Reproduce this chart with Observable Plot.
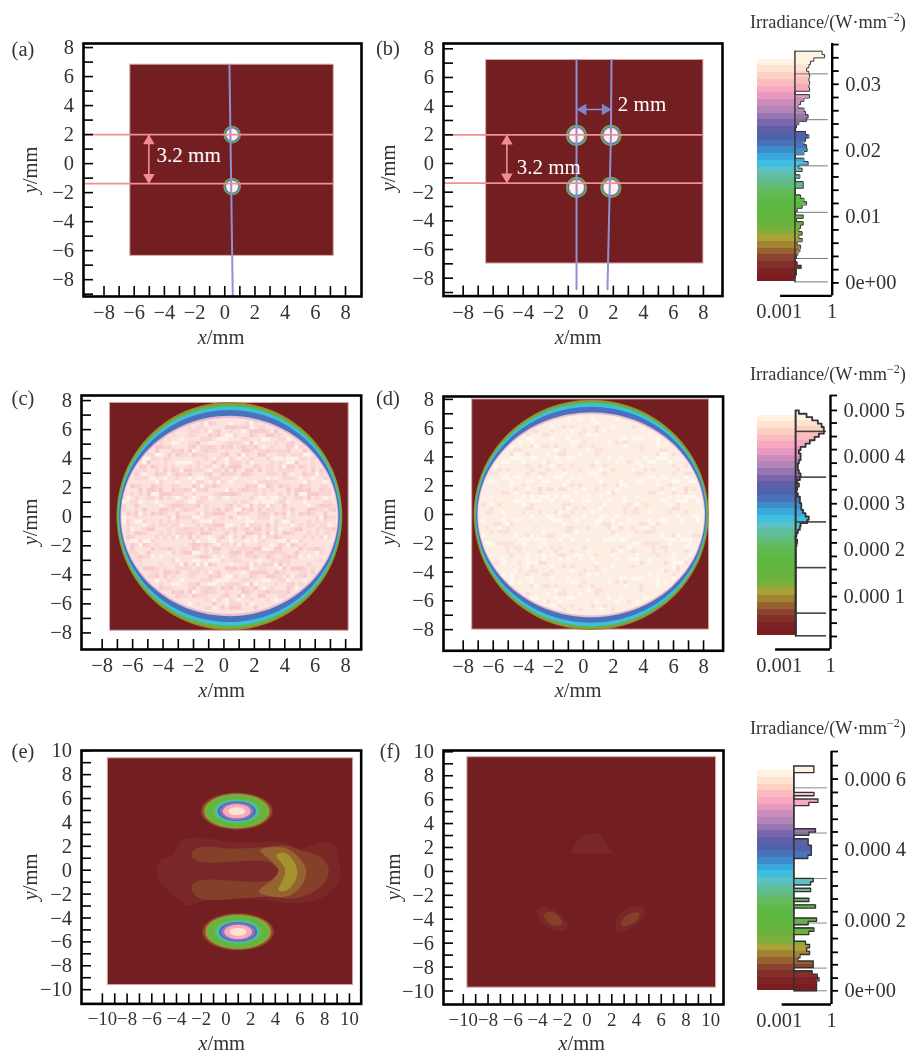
<!DOCTYPE html>
<html><head><meta charset="utf-8">
<script src="https://cdn.jsdelivr.net/npm/d3@7"></script>
<script src="https://cdn.jsdelivr.net/npm/@observablehq/plot@0.6"></script>
<style>
html,body{margin:0;padding:0;background:#fff}
#page{position:relative;width:909px;height:1053px;overflow:hidden;font-family:"Liberation Serif",serif;color:#333;filter:blur(.4px)}
#page svg{position:absolute;overflow:visible;background:transparent}
.lab{position:absolute;white-space:nowrap;font-size:20.5px;line-height:1;transform:translate(-50%,-50%)}
.rot{transform:translate(-50%,-50%) rotate(-90deg)}
.irr{position:absolute;white-space:nowrap;font-size:18.3px;line-height:1}
.irr sup{font-size:12px;line-height:0}
</style></head><body><div id="page"></div>
<script>
// ---------- colour levels, bottom to top ----------
const bandColors=["#7a1c20","#7f2226","#84302a","#8a4330","#96622f","#a38331","#a8a238","#7fae3a","#6cb23d","#63b53f","#5fb640","#5db842","#5fb94c","#64ba5c","#62bb82","#5fbda0","#5dc0c2","#3cbfe0","#3aa8dd","#3f8ccb","#4a72b8","#4f63ad","#5f5fa8","#7a66ac","#9675b0","#b385b8","#cc8dbd","#e89ac0","#f8a8bf","#fbbcc0","#fdd0c4","#fee4d0","#fff2e2"];
const DARK="#731e21",PINK="#f28e92",BLUE="#8e92cf",EDGE="#d8aaaa";

// ---------- histograms, log10 of the count fraction, top bin first ----------
const histA=[-.57,-.43,-1.04,-1.23,-1.32,-1.45,-1.32,-1.28,-1.32,-1.28,-1.32,-1.28,-2.08,-1.28,-1.6,-1.79,-1.94,-1.6,-1.51,-1.36,-1.45,-1.89,-2.02,-2.08,-1.51,-1.32,-1.51,-1.6,-1.45,-1.42,-1.6,-2.08,-1.6,-1.36,-1.89,-1.7,-2.08,-1.83,-2.08,-1.64,-1.64,-2.08,-2.08,-1.79,-1.6,-1.45,-1.7,-1.98,-2.08,-1.64,-2.02,-1.64,-1.79,-1.89,-1.7,-1.89,-1.7,-1.98,-1.79,-1.83,-1.94,-2.02,-2.08,-1.98,-1.75,-2.02,-2.02,-2.08,-2.11];
const histC=[-1.85,-1.4,-1.07,-.74,-.52,-.39,-.39,-.68,-.93,-1.21,-1.46,-1.75,-1.85,-1.75,-1.75,-1.85,-1.91,-1.91,-1.85,-1.75,-1.79,-1.95,-1.85,-1.95,-1.99,-1.91,-1.79,-1.79,-1.71,-1.71,-1.6,-1.46,-1.27,-1.36,-1.75,-1.79,-1.91,-1.99,-2.04,-1.95,-1.99,-2.03,-2.03,-2.03,-2.03,-2.03,-2.03,-2.03,-2.03,-2.03,-2.03,-2.03,-2.03,-2.03,-2.03,-2.03,-2.03,-2.03,-2.03,-2.03,-2.03,-2.03,-2.03,-2.03,-2.03,-2.03,-2.03,-2.03];
const histE=[-1.01,-1.01,-2.16,-2.16,-2.16,-2.16,-2.16,-2.16,-1.01,-2.16,-.78,-1.3,-2.16,-2.16,-2.16,-2.16,-2.16,-2.16,-2.16,-.92,-1.3,-2.16,-1.34,-1.34,-1.16,-1.16,-1.16,-1.36,-2.16,-2.16,-2.16,-2.16,-2.16,-2.16,-1.05,-1.2,-2.16,-1.2,-2.16,-2.16,-1.3,-2.16,-.92,-2.16,-2.16,-2.16,-.86,-1.34,-2.16,-1.01,-1.3,-2.16,-2.16,-1.49,-1.26,-1.43,-1.26,-1.81,-1.93,-1.05,-1.05,-2.16,-1.11,-.82,-.72,-.86,-.86,-.86];

// ---------- colorbar axes ----------
const ticksA=[0,.002,.004,.006,.008,.01,.012,.014,.016,.018,.02,.022,.024,.026,.028,.03,.032,.034,.036];
const ticksC=[.000531,.000499,.000472,.000443,.000415,.000386,.000358,.000329,.000299,.000272,.000243,.000215,.000186,.000158,.000129,.0000999,.0000717,.000043,.0000144];
const ticksE=[.000678,.000638,.0006,.000562,.000524,.000486,.00045,.000412,.000373,.000337,.000297,.00026,.000224,.000186,.000148,.000109,.0000738,.000036,0];
const labelsA=[[0,"0e+00"],[.01,"0.01"],[.02,"0.02"],[.03,"0.03"]];
const labelsC=[[.0001,"0.000 1"],[.0002,"0.000 2"],[.0003,"0.000 3"],[.0004,"0.000 4"],[.0005,"0.000 5"]];
const labelsE=[[0,"0e+00"],[.0002,"0.000 2"],[.0004,"0.000 4"],[.0006,"0.000 6"]];
const levelsA=[.00015,.00369,.01066,.01768,.02465,.03157];
const levelsC=[.0000159,.0000644,.000162,.00026,.000356,.000454];
const levelsE=[0,.0000643,.000192,.000318,.000447,.000575];

// ---------- detector squares [x1,x2,y1,y2] ----------
const squareA=[-6.26,7.22,-6.36,6.82], squareB=[-6.47,8,-6.98,7.22], squareC=[-7.49,8.2,-7.85,7.84];
const squareD=[-7.4,8.37,-8,8], squareE=[-9.56,10.3,-9.62,9.37], squareF=[-9.67,10.43,-9.72,9.55];

// ---------- beam lines and spots ----------
const blueLineA=[[.31,6.82],[.53,-9.16]];
const blueLineB1=[[-.45,7.22],[-.45,-8.77]], blueLineB2=[[1.88,7.22],[1.84,2],[1.61,-8.77]];
const spotsA=[[.49,2],[.49,-1.58]];
const spotsB=[[-.45,1.96],[1.84,1.96],[-.45,-1.67],[1.84,-1.67]];
const spotRingColors=["#8f9a3c","#5fb640","#3fa0d0","#5068b0","#f4a9c4","#fdf3ec"];
const spotRadiiA=[8.8,8.3,7.6,7.1,6.3,5.6], spotRadiiB=[10.6,10,9.3,8.7,7.9,7];

// ---------- ring outlines: a unit outline scaled by the half-widths ----------
const unitRing=[[1,0],[.924,.383],[.707,.707],[.383,.924],[0,1],[-.383,.924],[-.707,.707],[-.924,.383],[-1,0],[-.924,-.383],[-.707,-.707],[-.383,-.924],[0,-1],[.383,-.924],[.707,-.707],[.924,-.383]];
const beamC={cx:.36,cy:.05,rx:[7.42,7.38,7.3,7.25,7.16,7.1],ry:[7.86,7.74,7.55,7.3,6.9,6.75]};
const beamD={cx:.52,cy:-.02,rx:[7.82,7.76,7.7,7.66,7.58,7.52],ry:[8,7.9,7.75,7.5,7.12,7]};
const beamColors=["#a38331","#63b53f","#3cbfe0","#4a72b8","#eabbd5","#fce3dd"];
const lobeE={rx:[2.9,2.74,2.62,2.52,1.9,1.68,1.56,1.35,1.13,.68],ry:[1.55,1.48,1.42,1.37,1.03,.9,.83,.72,.6,.33]};
const lobeColors=["#8a4330","#96622f","#a8a238","#63b53f","#64ba5c","#3cbfe0","#4a72b8","#9675b0","#f8a8bf","#fee4d0"];
const lobeCentersE=[[.88,4.94],[.99,-5.16]];

// ---------- stray-light contours in (e) and (f) ----------
const strayE1=[[-5.64,0],[-5.32,.84],[-4.37,1.26],[-3.56,2.51],[-2.08,2.71],[.62,2.32],[4.67,2.32],[6.02,1.81],[7.64,2.32],[8.72,2.23],[9.12,.98],[9.26,0],[8.99,-1.26],[7.64,-2.37],[5.48,-2.79],[3.32,-2.51],[.62,-2.37],[-1.54,-2.51],[-3.16,-2.93],[-4.51,-1.81],[-5.32,-.98]];
const strayE2=[[-2.75,1.53],[-2.08,1.95],[.62,1.81],[3.32,1.95],[4.67,2.09],[6.02,1.67],[7.64,1.12],[8.31,.14],[8.04,-.98],[7.1,-1.81],[5.48,-2.37],[3.32,-2.23],[-2.08,-2.37],[-2.75,-1.67],[-2.75,-1.26],[-2.08,-.84],[3.59,-.84],[4.26,-.14],[3.59,.64],[-2.08,.7],[-2.75,1.12]];
const strayE3=[[2.78,1.67],[4.13,1.95],[5.21,1.67],[6.29,.56],[6.5,-.14],[6.15,-1.26],[5.21,-2.09],[3.86,-2.23],[2.65,-1.81],[3.86,-.7],[4.26,0],[3.59,.84]];
const strayE4=[[4.08,1.26],[4.67,1.48],[5.21,1.12],[5.75,.14],[5.69,-.7],[4.94,-1.67],[4.26,-1.67],[4.67,-.7],[4.8,0],[4.53,.56]];
const strayF1=[[-1.27,1.5],[-1,2.2],[-.46,3.04],[.03,3.15],[1.11,3.15],[1.59,2.34],[2.1,1.5]];
const strayF2=[[-4.02,-3.23],[-3.48,-2.87],[-2.67,-3.23],[-1.73,-4.07],[-1.54,-4.71],[-2.26,-5.04],[-3.21,-4.62],[-3.88,-3.93]];
const strayF3=[[-3.48,-3.65],[-2.94,-3.37],[-2.26,-3.79],[-1.99,-4.35],[-2.4,-4.54],[-3.07,-4.35]];
const strayF4=[[2.32,-4.35],[2.59,-3.65],[3.67,-2.95],[4.61,-2.95],[4.61,-3.65],[3.8,-4.62],[2.86,-5.04],[2.32,-4.9]];
const strayF5=[[2.72,-4.35],[3.26,-3.65],[4.2,-3.45],[4.2,-3.87],[3.53,-4.43],[2.86,-4.54]];

// ---------- speckle read by eye: 0 base, 1 pink, 2 deep pink, 3 pale ----------
const speckleC=[
"303010300310003003010030003100300103",
"030100130010301030001300301003100030",
"103001003101030010310030103010030130",
"010310301001300301001310010030103001",
"301003010320103010230010301300100310",
"001301102010031201010320103001301003",
"310010310102301012031001230100103010",
"003102012010120310102012010310031001",
"130011020131012001320101201013100130",
"013020102012101202010120310201001003",
"301102010210201021012102012010130310",
"010201320102120120210012102103010001",
"103012011210201012012210210120210130",
"300120210012102120120101202011020103",
"031012012102120121021020120210103010",
"100201102120102012102120112012010301",
"301012120012120201210201021012031001",
"013102011201021201012120210201201030",
"301012102120120121021012012102010103",
"100210120102102012012102120201103010",
"031012021012012120120210102012010301",
"301201012102120102012012120120301003",
"010120210201021201210201012102011030",
"103012012012102012012120210201200103",
"300102102120120210201012012010130010",
"013011201021012012120210120120103001",
"100310120102120201012012102011030130",
"301001202012010210210120120130010301",
"030130012010201201012012010310300010",
"103010310120012012010201030100130103",
"001301003101203010120130103001003010",
"310030130010301020103010301030100301",
"003100301003010301030103001003013000",
"130010030130100310010030130100300103",
"010301300100301003013001003013001030",
"300103001030010130100301300100103001"];
const speckleD=[
"033003003030030003300300303003030030",
"300303000300303000030300030030003300",
"030000303003000303000030303000300003",
"003030000300030000303000000303030300",
"300003030001003000010300030000003030",
"030300000100010030000001000300300003",
"003003010000100000100000100030000330",
"300030000010000100001000010003030000",
"030300100000010000100010000100000303",
"003000001000100010000100100000300030",
"300030010001000001010000001000030300",
"030001000100010000001000100010000003",
"003000100001000100100100000100103030",
"300300001000100010000010010000000300",
"030001000010001000100000100100010003",
"003010001000100100001001000001000030",
"300000100100000010100001000100103000",
"030100001000102000001000100001000303",
"003001000100010001000100010100000030",
"300000100010000100100001000001003000",
"030010001000100000010000100100000303",
"003000100010001001000100000010100030",
"300100000100010000100001001000003000",
"030001001000100100001000100010000303",
"003000010010000010000100010000030030",
"300030100001001000100001000100300003",
"030000001000100001000100100003000330",
"003003000100001000100000010030030000",
"300300300010000100010010003000300303",
"030030003000100001000001030030003000",
"003000300300010000100030000303000030",
"300303000030300030003000303000300303",
"030000303000030303000303000030030000",
"003030000303000000303000303003000303",
"300003030000303030000030000300303000",
"030300003030000003030303030000030030"];
const speckleColorsC={1:"#fad5d6",2:"#f8c8d0",3:"#fff3e8"};
const speckleColorsD={1:"#fbdfda",2:"#fad5d4",3:"#fff8f0"};

// ---------- helpers building marks from the arrays above ----------
const page=document.getElementById("page");
const FONT='"Liberation Serif",serif', TXT="#333";
const evens=(a,b)=>d3.range(a,b+1,2), ones=(a,b)=>d3.range(a,b+1,1);
const poly=(pts,fill,curve)=>Plot.line(pts,{x:d=>d[0],y:d=>d[1],fill,stroke:"none",curve:curve||"catmull-rom-closed"});
const seg=(pts,stroke,w)=>Plot.line(pts,{x:d=>d[0],y:d=>d[1],stroke,strokeWidth:w});
const ring=(cx,cy,rx,ry,fill)=>poly(unitRing.map(([u,v])=>[cx+u*rx,cy+v*ry]),fill,"cardinal-closed");
const square=s=>Plot.rect([s],{x1:d=>d[0],x2:d=>d[1],y1:d=>d[2],y2:d=>d[3],fill:DARK,stroke:EDGE,strokeWidth:1});

function panel({frame:[l,r,t,b],xd,yd,xLab,yLab,tickMax,yTickMin,xFont,marks}){
  const ml=62,mr=6,mt=6,mb=34,W=r-l+ml+mr,H=b-t+mt+mb;
  const ty=(yd[1]-yd[0])*10/(b-t), tx=(xd[1]-xd[0])*10/(r-l);
  page.append(Plot.plot({
    width:W,height:H,marginLeft:ml,marginRight:mr,marginTop:mt,marginBottom:mb,
    style:{left:(l-ml)+"px",top:(t-mt)+"px",fontFamily:FONT,background:"transparent"},
    x:{domain:xd,label:null},y:{domain:yd,label:null},
    marks:[
      ...marks,
      Plot.ruleX(ones(-tickMax,tickMax),{x:d=>d,y1:yd[0],y2:yd[0]+ty,stroke:"#000",strokeWidth:1.6}),
      Plot.ruleY(ones(yTickMin??-tickMax,tickMax),{y:d=>d,x1:xd[0],x2:xd[0]+tx,stroke:"#000",strokeWidth:1.6}),
      Plot.frame({stroke:"#000",strokeWidth:2.6}),
      Plot.axisX(evens(-tickMax,tickMax),{tickSize:0,tickPadding:8,fontSize:xFont||20.5,fill:TXT,label:null,tickFormat:d3.format("d")}),
      Plot.axisY(evens(-tickMax,tickMax),{tickSize:0,tickPadding:9.5,fontSize:20.5,fill:TXT,label:null,tickFormat:d3.format("d")})
    ]}));
  text(xLab[0],xLab[1],"<i>x</i>/mm");
  text(yLab[0],yLab[1],"<i>y</i>/mm",true);
}
function text(x,y,html,rot){
  const e=document.createElement("div");
  e.className="lab"+(rot?" rot":"");
  e.style.left=x+"px";e.style.top=y+"px";e.innerHTML=html;page.append(e);
}
function spots(list,radii){
  return radii.map((r,i)=>Plot.dot(list,{x:d=>d[0],y:d=>d[1],r,fill:spotRingColors[i],stroke:"none"}));
}
function arrowV(x,y1,y2){
  return [Plot.ruleX([x],{y1,y2,stroke:PINK,strokeWidth:1.6}),
    Plot.dot([y1],{x:()=>x,y:d=>d,symbol:"triangle",r:4.3,fill:PINK,dy:6.4}),
    Plot.dot([y2],{x:()=>x,y:d=>d,symbol:"triangle",r:4.3,fill:PINK,rotate:180,dy:-6.4})];
}
function arrowH(y,x1,x2){
  return [Plot.ruleY([y],{x1,x2,stroke:BLUE,strokeWidth:1.6}),
    Plot.dot([x1],{y:()=>y,x:d=>d,symbol:"triangle",r:4.3,fill:"#7f86c6",rotate:-90,dx:6.4}),
    Plot.dot([x2],{y:()=>y,x:d=>d,symbol:"triangle",r:4.3,fill:"#7f86c6",rotate:90,dx:-6.4})];
}
// the typed speckle table is read with a stride over the beam at a fine cell size
function speckle(rows,colors,beam,rx,ry){
  const step=.27,n=60,m=rows.length,cells=[];
  for(let j=0;j<n;j++)for(let i=0;i<n;i++){
    const c=rows[(j*7)%m][(i*5+j*11)%m];
    if(c==="0")continue;
    const x=beam.cx+(i-n/2+.5)*step,y=beam.cy+(n/2-j-.5)*step;
    if(((x-beam.cx)/rx)**2+((y-beam.cy)/ry)**2<.96)cells.push({x,y,f:colors[c]});
  }
  return Plot.rect(cells,{x1:d=>d.x-step/2,x2:d=>d.x+step/2,y1:d=>d.y-step/2,y2:d=>d.y+step/2,fill:d=>d.f});
}
function colorbar({left,spine,yd,barRange,histRange,hist,base,ticks,labels,levels,levelW,levelC,baseW,spineFrom,histW}){
  const ml=778.7-left,mr=78,[pxTop,pxBottom]=yd.px;
  const W=spine-left+mr,H=pxBottom-pxTop+10,dec=(spine-778.7)/3;
  const n=bandColors.length,bw=(barRange[1]-barRange[0])/n;
  const bands=bandColors.map((c,i)=>({v1:barRange[0]+i*bw,v2:barRange[0]+(i+1)*bw,c}));
  const hw=(histRange[1]-histRange[0])/hist.length;
  const bins=hist.map((lg,i)=>{
    const v2=histRange[1]-i*hw,v1=v2-hw,mid=(v1+v2)/2;
    const k=Math.max(0,Math.min(n-1,Math.floor((mid-barRange[0])/bw)));
    return {v1,v2,lg,c:bandColors[k]};
  });
  const outline=[[base,histRange[1]]];
  bins.forEach(d=>{outline.push([d.lg,d.v2],[d.lg,d.v1]);});
  outline.push([base,histRange[0]]);
  page.append(Plot.plot({
    width:W,height:H,marginLeft:ml,marginRight:mr,marginTop:5,marginBottom:5,
    style:{left:left+"px",top:(pxTop-5)+"px",fontFamily:FONT,background:"transparent"},
    x:{domain:[-3,0],label:null},y:{domain:yd.domain,label:null},
    marks:[
      Plot.rect(bands,{x1:()=>-3-22/dec,x2:()=>base,y1:"v1",y2:"v2",fill:"c",shapeRendering:"crispEdges"}),
      Plot.rect(bins.filter(d=>d.lg>base),{x1:()=>base,x2:"lg",y1:"v1",y2:"v2",fill:"c",shapeRendering:"crispEdges"}),
      Plot.ruleY(levels,{y:d=>d,x1:base,x2:-4/dec,stroke:levelC,strokeWidth:levelW}),
      seg(outline,"#333",histW),
      Plot.ruleX([base],{y1:histRange[0],y2:histRange[1],stroke:"#333",strokeWidth:baseW}),
      Plot.ruleX([0],{y1:yd.domain[0],y2:yd.domain[1],stroke:"#000",strokeWidth:2.4}),
      Plot.ruleY([yd.domain[0]],{x1:spineFrom,x2:0,stroke:"#000",strokeWidth:2.4}),
      Plot.ruleY(ticks,{y:d=>d,x1:0,x2:7/dec,stroke:"#000",strokeWidth:1.8}),
      Plot.axisY(labels.map(d=>d[0]),{anchor:"right",tickSize:0,tickPadding:13,fontSize:20.5,fill:TXT,label:null,tickFormat:v=>labels.find(d=>d[0]===v)[1]}),
      Plot.axisX([-3,0],{tickSize:0,tickPadding:8,fontSize:20.5,fill:TXT,label:null,tickFormat:v=>v===0?"1":"0.001"})
    ]}));
}

// ---------- panels ----------
panel({frame:[83,361,43,296],xd:[-9.36,9.06],yd:[-9.16,8.28],tickMax:8,yTickMin:-9,xLab:[221,337],yLab:[30,170],marks:[
  square(squareA),...spots(spotsA,spotRadiiA),
  seg(blueLineA,BLUE,2),
  Plot.ruleY([2,-1.38],{y:d=>d,x1:-9.36,x2:7.26,stroke:PINK,strokeWidth:1.8}),
  ...arrowV(-5.03,2,-1.38),
  Plot.text(["3.2 mm"],{x:()=>-4.52,y:()=>.55,text:d=>d,fill:"#fff",fontSize:21,textAnchor:"start"})
]});
panel({frame:[442.7,721.7,42.7,295.3],xd:[-9.31,9.27],yd:[-9.25,8.37],tickMax:8,yTickMin:-9,xLab:[578,337],yLab:[388,168],marks:[
  square(squareB),...spots(spotsB,spotRadiiB),
  seg(blueLineB1,BLUE,2),seg(blueLineB2,BLUE,2),
  Plot.ruleY([2,-1.37],{y:d=>d,x1:-9.31,x2:7.97,stroke:PINK,strokeWidth:1.8}),
  ...arrowV(-5.09,2,-1.37),...arrowH(3.77,-.45,1.88),
  Plot.text(["3.2 mm"],{x:()=>-4.43,y:()=>-.23,text:d=>d,fill:"#fff",fontSize:21,textAnchor:"start"}),
  Plot.text(["2 mm"],{x:()=>2.3,y:()=>4.1,text:d=>d,fill:"#fff",fontSize:21,textAnchor:"start"})
]});
panel({frame:[81.3,361,395.3,649.3],xd:[-9.36,9.02],yd:[-9.14,8.35],tickMax:8,xLab:[221.7,690],yLab:[30,521.7],marks:[
  square(squareC),
  ...beamC.rx.map((rx,i)=>ring(beamC.cx,beamC.cy,rx,beamC.ry[i],beamColors[i])),
  speckle(speckleC,speckleColorsC,beamC,7.1,6.75)
]});
panel({frame:[442.7,722.3,395.7,650],xd:[-9.31,9.3],yd:[-9.47,8.2],tickMax:8,xLab:[578,690],yLab:[388,521.7],marks:[
  square(squareD),
  ...beamD.rx.map((rx,i)=>ring(beamD.cx,beamD.cy,rx,beamD.ry[i],i===5?"#fdeee3":beamColors[i])),
  speckle(speckleD,speckleColorsD,beamD,7.52,7)
]});
panel({frame:[81.3,361,750.3,1003.7],xd:[-11.69,10.95],yd:[-11.19,10.02],tickMax:10,xFont:18.8,xLab:[221.7,1042.5],yLab:[30,877],marks:[
  square(squareE),
  poly(strayE1,"#7a2727"),poly(strayE2,"#844029"),poly(strayE3,"#966430"),poly(strayE4,"#a4932f"),
  ...lobeCentersE.flatMap(([cx,cy])=>lobeE.rx.map((rx,i)=>ring(cx,cy,rx,lobeE.ry[i],lobeColors[i])))
]});
panel({frame:[442.7,722.7,750.3,1004.3],xd:[-11.6,11.03],yd:[-11.13,10.11],tickMax:10,xFont:18.8,xLab:[581.7,1042.5],yLab:[393,877],marks:[
  square(squareF),
  poly(strayF1,"#7a2727","linear-closed"),
  poly(strayF2,"#7a2727"),poly(strayF3,"#844029"),
  poly(strayF4,"#7a2727"),poly(strayF5,"#844029")
]});

// ---------- colorbars ----------
colorbar({left:745,spine:831.7,yd:{px:[43.3,295.7],domain:[-.00196,.03616]},barRange:[.00015,.0338],histRange:[.00015,.035],hist:histA,base:-2.11,ticks:ticksA,labels:labelsA,levels:levelsA,levelW:1,levelC:"#777",baseW:1.4,spineFrom:-2.92,histW:1});
colorbar({left:745,spine:830,yd:{px:[395,649],domain:[-.0000135,.000531]},barRange:[.0000159,.000489],histRange:[.0000159,.000499],hist:histC,base:-2.04,ticks:ticksC,labels:labelsC,levels:levelsC,levelW:1.6,levelC:"#444",baseW:2,spineFrom:-3.21,histW:1.8});
colorbar({left:745,spine:831,yd:{px:[750.7,1003.7],domain:[-.0000388,.000678]},barRange:[0,.000623],histRange:[0,.000637],hist:histE,base:-2.16,ticks:ticksE,labels:labelsE,levels:levelsE,levelW:1,levelC:"#888",baseW:1.5,spineFrom:-2.83,histW:1.4});

// ---------- panel letters and colorbar titles ----------
[["(a)",23,49],["(b)",388,48],["(c)",23,398],["(d)",388,398],["(e)",23,751],["(f)",390,751]].forEach(d=>text(d[1],d[2],d[0]));
[13,365,719].forEach(top=>{
  const e=document.createElement("div");e.className="irr";e.style.left="750px";e.style.top=top+"px";
  e.innerHTML="Irradiance/(W·mm<sup>−2</sup>)";page.append(e);
});
</script></body></html>
